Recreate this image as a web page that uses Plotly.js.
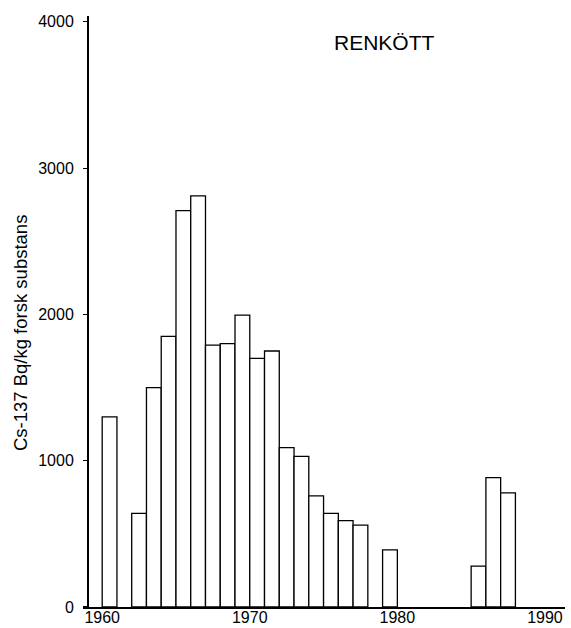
<!DOCTYPE html>
<html>
<head>
<meta charset="utf-8">
<script src="https://cdn.plot.ly/plotly-3.0.1.min.js"></script>
<style>
  html, body { margin: 0; padding: 0; background: #fff; }
  #chart { width: 571px; height: 628px; }
</style>
</head>
<body>
<div id="chart"></div>
<script>
// Data
const years = [1960, 1962, 1963, 1964, 1965, 1966, 1967, 1968, 1969, 1970, 1971, 1972, 1973, 1974, 1975, 1976, 1977, 1979, 1985, 1986, 1987];
const cs137 = [1300, 640, 1500, 1850, 2710, 2810, 1790, 1800, 1995, 1700, 1750, 1090, 1030, 760, 640, 590, 560, 390, 280, 885, 780];
const xTickVals = [1960, 1970, 1980, 1990];
const xTickText = ['1960', '1970', '1980', '1990'];
const yTickVals = [0, 1000, 2000, 3000, 4000];
const titleText = 'RENKÖTT';
const yTitle = 'Cs-137 Bq/kg forsk substans';

const font = 'Liberation Sans, Arial, Helvetica, sans-serif';

const trace = {
  type: 'bar',
  x: years,
  y: cs137,
  width: 1,
  offset: 0,
  marker: { color: '#ffffff', line: { color: '#000000', width: 1.3 } },
  hoverinfo: 'x+y'
};

const layout = {
  width: 571,
  height: 628,
  margin: { l: 83, r: 6, t: 15.5, b: 20.5 },
  paper_bgcolor: '#ffffff',
  plot_bgcolor: '#ffffff',
  showlegend: false,
  font: { family: font, color: '#000000', size: 16 },
  xaxis: {
    range: [1958.7, 1991.36],
    tickvals: xTickVals,
    ticktext: xTickText,
    ticks: '',
    ticklabelstandoff: -5,
    showgrid: false,
    zeroline: false,
    showline: true,
    linecolor: '#000',
    linewidth: 1.6,
    tickfont: { family: font, size: 16, color: '#000' },
    automargin: false,
    fixedrange: true
  },
  yaxis: {
    range: [0, 4040],
    tickvals: yTickVals,
    ticks: 'outside',
    ticklen: 4,
    tickwidth: 1.2,
    tickcolor: '#000',
    ticklabelstandoff: 6,
    anchor: 'free',
    position: 0.0083,
    showgrid: false,
    zeroline: false,
    showline: true,
    linecolor: '#000',
    linewidth: 1.6,
    tickfont: { family: font, size: 16, color: '#000' },
    automargin: false,
    fixedrange: true
  },
  annotations: [{
    text: titleText,
    xref: 'paper', yref: 'paper',
    x: 0.625, y: 0.955,
    xanchor: 'center', yanchor: 'middle',
    showarrow: false,
    font: { family: font, size: 21, color: '#000' }
  }, {
    text: yTitle,
    xref: 'paper', yref: 'paper',
    x: -0.13, y: 0.464,
    xanchor: 'center', yanchor: 'middle',
    textangle: -90,
    showarrow: false,
    font: { family: font, size: 18.5, color: '#000' }
  }]
};

Plotly.newPlot('chart', [trace], layout, { staticPlot: true, displayModeBar: false });
</script>
</body>
</html>
